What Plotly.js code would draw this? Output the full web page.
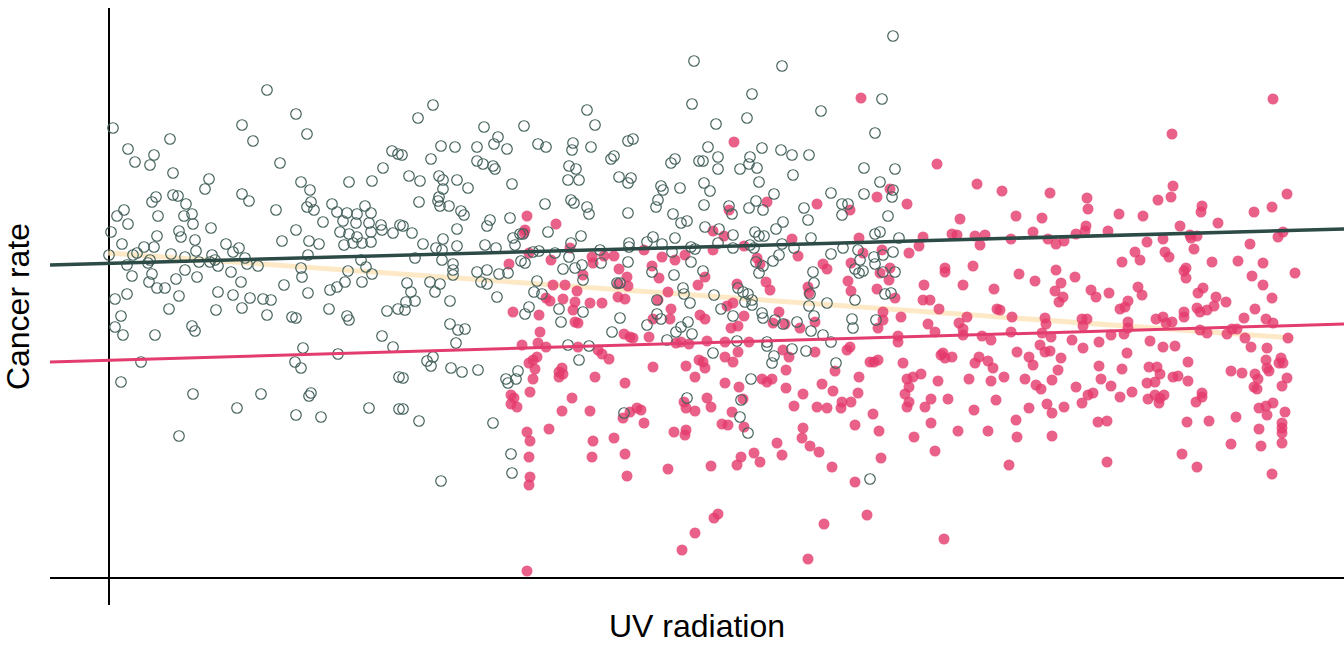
<!DOCTYPE html>
<html>
<head>
<meta charset="utf-8">
<script src="https://cdn.plot.ly/plotly-3.0.1.min.js"></script>
<style>
  html, body { margin: 0; padding: 0; background: #ffffff; }
  #chart { width: 1344px; height: 645px; }
</style>
</head>
<body>
<div id="chart"></div>
<script>
// Group 1 (open circles): UV radiation and cancer rate, arbitrary units
const group1Points = [
[4,450],[158,488],[187,464],[198,444],[133,453],[144,437],[61,439],[19,429],[26,416],[45,423],[41,413],[64,405],[100,399],[96,389],[171,415],[192,396],[201,388],[240,396],[263,397],[274,410],[283,427],[289,424],[47,381],[43,376],[64,383],[69,382],[77,374],[75,362],[83,364],[84,354],[133,384],[140,377],[167,368],[202,376],[198,371],[205,368],[214,356],[223,374],[228,366],[238,365],[234,357],[248,364],[247,355],[256,372],[262,365],[260,355],[272,353],[273,348],[284,345],[291,353],[231,346],[240,344],[262,346],[248,341],[244,335],[235,333],[253,335],[262,336],[8,362],[15,368],[19,354],[49,362],[2,346],[70,347],[72,341],[48,342],[102,350],[187,348],[173,337],[200,337],[210,334],[86,338],[13,334],[35,331],[45,331],[0,323],[24,323],[28,325],[41,318],[39,315],[18,313],[62,324],[76,321],[87,327],[90,316],[103,323],[101,316],[106,318],[109,312],[117,334],[124,326],[130,330],[136,320],[138,314],[149,312],[122,306],[132,296],[76,308],[43,304],[23,302],[40,296],[67,299],[88,301],[48,290],[56,290],[18,284],[6,279],[70,282],[109,286],[124,283],[141,280],[154,279],[162,278],[192,310],[193,301],[199,323],[175,293],[199,285],[239,307],[236,296],[253,296],[252,318],[257,311],[263,304],[221,288],[228,291],
[12,262],[6,251],[14,243],[60,269],[46,243],[83,252],[86,247],[107,268],[133,270],[158,263],[183,261],[187,260],[220,269],[238,262],[240,258],[278,267],[289,269],[273,242],[284,231],[194,230],[229,224],[186,216],[192,210],[32,216],[12,196],[84,184],[152,184],[202,185],[200,182],[128,170],[187,163],[212,161],[260,170],[290,201],[290,169],[70,142],
[585,517],[583,474],[324,473],[309,460],[478,468],[486,453],[375,451],[415,452],[389,441],[385,434],[398,429],[368,431],[332,432],[346,431],[293,423],[322,419],[368,417],[374,414],[384,412],[386,409],[429,434],[437,431],[464,435],[463,428],[482,431],[519,437],[524,439],[502,419],[505,422],[562,415],[566,419],[590,417],[300,402],[311,397],[330,402],[334,398],[348,398],[334,389],[359,390],[403,394],[460,412],[467,409],[459,398],[470,398],[510,401],[522,400],[519,395],[552,392],[554,388],[571,390],[310,376],[330,381],[329,377],[331,372],[340,372],[352,367],[355,363],[436,374],[462,378],[465,375],[478,371],[480,364],[519,365],[549,378],[547,371],[564,364],[572,355],[578,357],[294,352],[303,345],[314,334],[327,330],[334,339],[333,328],[348,349],[348,332],[333,318],[306,320],[378,352],[381,358],[401,360],[376,333],[387,330],[404,340],[406,333],[411,344],[414,344],[439,346],[472,342],[462,335],[424,326],[430,327],[446,325],[460,321],[491,328],[492,315],[520,335],[520,331],[538,336],[544,341],[553,334],[566,340],[563,326],[582,331],[586,329],[582,316],[519,316],[344,314],[344,308],[344,303],[368,306],[378,308],[390,304],[372,296],[378,294],[399,305],[412,317],[416,315],[454,309],[466,310],[473,313],[474,298],[428,297],[425,286],[433,284],[388,281],[341,277],[298,295],[302,286],[321,296],[331,294],[326,286],[297,276],[306,277],[508,295],[511,295],[543,306],[565,303],[574,290],[575,284],[581,275],[548,278],
[296,268],[341,254],[349,248],[356,249],[347,235],[318,217],[324,221],[322,212],[342,210],[353,206],[369,208],[294,200],[294,169],[310,157],[384,155],[332,97],[397,199],[399,195],[407,199],[409,207],[402,124],[403,105],[416,264],[420,271],[450,269],[452,256],[474,266],[459,233],[480,232],[470,218],[503,246],[511,260],[548,264],[552,259],[538,253],[558,238],[567,246],[572,251],[579,256],[583,244],[515,165],[578,180],
[784,542],[673,512],[643,484],[773,479],[712,467],[638,460],[607,454],[766,445],[599,431],[594,417],[609,421],[609,409],[631,409],[641,421],[640,414],[648,410],[653,430],[672,428],[683,423],[700,423],[684,403],[650,396],[595,395],[601,387],[595,373],[665,384],[647,377],[640,370],[654,368],[620,372],[623,364],[695,370],[699,358],[722,385],[733,374],[739,374],[733,363],[755,410],[755,384],[771,396],[784,388],[783,381],[786,409],[779,362],[596,351],[610,349],[624,343],[674,356],[667,349],[646,346],[650,342],[655,342],[641,333],[645,330],[624,330],[609,335],[673,334],[685,330],[702,340],[670,323],[664,317],[647,316],[654,312],[650,305],[704,306],[705,295],[722,324],[734,330],[749,328],[751,318],[746,309],[750,305],[754,307],[765,321],[766,314],[774,323],[784,326],[774,306],[786,306],[766,344],[771,346],[790,340],[594,307],[605,283],[629,290],[634,286],[639,284],[643,278],[701,284],[718,275],[746,278],[776,284],[782,285],
[612,269],[624,262],[636,276],[643,273],[653,265],[654,260],[666,258],[674,254],[688,256],[700,272],[705,262],[743,259],[744,250],[767,258],[702,247],[714,243],[722,236],[628,237],[658,236],[658,232],[604,225],[665,222],[663,215],[683,229],[697,227],[727,215],[642,199],[632,178],[631,161],[639,145],[761,99]
];

// Group 2 (filled dots): UV radiation and cancer rate, arbitrary units
const group2Points = [
[418,362],[447,354],[416,348],[415,345],[420,325],[400,314],[442,318],[461,330],[483,321],[484,315],[495,322],[505,322],[535,328],[553,321],[566,318],[576,323],[543,312],[550,300],[510,309],[518,301],[519,292],[509,294],[474,303],[444,293],[456,293],[468,287],[509,281],[516,279],[559,286],[589,293],[437,280],[441,277],[454,279],[466,276],[481,275],[493,275],[549,278],
[404,266],[430,263],[431,246],[413,233],[429,235],[437,231],[420,215],[424,218],[428,221],[426,209],[424,199],[421,186],[402,183],[405,180],[402,174],[408,171],[418,146],[421,137],[420,121],[421,101],[420,93],[418,7],[440,149],[450,206],[453,210],[450,201],[454,204],[463,180],[453,167],[466,256],[469,255],[464,268],[469,231],[489,228],[493,224],[500,219],[486,201],[481,167],[484,137],[483,121],[505,140],[516,195],[515,244],[521,241],[524,240],[516,124],[518,102],[514,160],[521,166],[528,170],[532,168],[535,155],[540,241],[544,211],[544,259],[562,269],[561,259],[567,235],[572,236],[580,234],[591,263],[577,212],[586,201],[575,176],[577,170],[586,167],[565,146],[577,148],[576,143],[559,109],[586,45],[573,28],[590,218],
[752,480],[625,436],[828,414],[868,394],[781,389],[768,381],[798,374],[741,368],[708,374],[658,376],[620,368],[851,359],[604,347],[615,342],[635,332],[604,328],[683,339],[689,322],[750,340],[773,328],[754,325],[800,325],[814,341],[810,332],[843,344],[848,343],[866,342],[876,343],[871,333],[648,320],[651,314],[714,314],[718,309],[742,315],[771,305],[781,310],[780,298],[836,310],[836,306],[864,312],[596,301],[628,294],[657,296],[661,288],[699,291],[700,285],[739,297],[742,287],[768,289],[786,280],[815,293],[854,293],[885,289],[814,278],[821,278],[624,275],
[1164,479],[1063,444],[893,387],[941,385],[1064,392],[1062,381],[1049,378],[978,380],[979,369],[907,362],[933,360],[1010,364],[1034,362],[1093,372],[1092,366],[1109,355],[1145,366],[1163,371],[1178,384],[1071,352],[977,352],[976,347],[967,344],[924,346],[999,347],[902,339],[939,339],[947,334],[955,337],[1038,336],[1054,339],[1081,343],[1082,340],[1088,342],[1085,329],[1174,346],[1169,341],[1026,326],[1031,318],[1013,316],[1056,326],[1060,321],[1103,316],[1129,317],[1141,334],[1154,315],[910,304],[926,297],[947,308],[952,295],[946,287],[954,281],[966,301],[982,288],[987,281],[1000,285],[1029,291],[1033,283],[1077,310],[1075,307],[1077,300],[1094,290],[1089,285],[1107,281],[1143,302],[1154,293],[1163,280],[1186,305],[950,276],[1019,277],[1117,276],
[596,259],[618,272],[622,250],[629,252],[635,262],[670,266],[664,255],[676,254],[691,250],[706,256],[598,237],[616,236],[640,236],[629,226],[674,228],[706,226],[738,228],[741,231],[594,216],[596,210],[616,221],[624,216],[680,221],[677,208],[726,207],[616,195],[630,191],[653,199],[658,196],[663,199],[677,190],[713,194],[724,187],[694,184],[598,180],[602,171],[634,179],[685,172],[708,171],[718,170],[733,176],[732,170],[742,176],[623,166],[613,154],[619,153],[635,151],[694,150],[693,140],[701,132],[710,126],[668,135],[673,123],[645,125],[651,116],[632,121],[628,113],[602,112],[723,111],[746,153],[764,164],[770,147],[772,120],[746,96],[750,201],[749,185],[761,216],[765,216],[769,218],[789,242],[789,236],[792,261],[774,266],[769,250],[774,258],[819,254],[826,246],[830,269],[794,215],[798,199],[804,201],[812,204],[800,191],[796,184],[800,176],[798,171],[816,171],[822,179],[829,197],[839,179],[822,155],[805,141],[826,127],[849,147],[865,168],[879,147],[887,178],[860,199],[882,197],[832,223],[836,220],[843,221],[834,225],[866,215],[870,221],[879,217],[884,210],[850,255],[854,249],[854,243],[858,261],[873,242],[882,238],[888,269],[605,60],[609,64],[715,54],[758,63],[835,39],[699,19],
[891,268],[903,261],[902,246],[908,226],[920,221],[924,213],[895,201],[916,199],[927,193],[932,189],[920,170],[907,158],[908,141],[900,113],[936,260],[937,254],[933,245],[942,241],[931,233],[936,226],[941,227],[952,220],[949,208],[943,198],[938,174],[943,165],[955,171],[943,142],[963,238],[974,230],[973,259],[978,259],[974,252],[990,236],[1002,243],[967,191],[979,183],[984,185],[973,175],[990,212],[992,199],[1002,192],[989,156],[998,157],[998,116],[1011,269],[1016,271],[1019,256],[1019,250],[1015,244],[1018,225],[1013,209],[1011,181],[1023,186],[1041,237],[1047,259],[1054,261],[1057,255],[1063,256],[1054,231],[1066,232],[1075,266],[1075,261],[1088,270],[1091,266],[1098,268],[1105,272],[1040,211],[1048,211],[1051,204],[1046,196],[1038,195],[1064,201],[1069,202],[1079,216],[1079,197],[1039,179],[1046,183],[1051,180],[1050,175],[1055,183],[1087,176],[1093,185],[1093,181],[1078,156],[1100,157],[1073,124],[1088,111],[1091,248],[1098,245],[1118,244],[1123,249],[1128,249],[1135,260],[1146,269],[1157,259],[1164,255],[1136,240],[1142,231],[1158,230],[1179,240],[1122,207],[1133,205],[1146,204],[1149,199],[1145,191],[1148,189],[1157,218],[1158,210],[1160,207],[1172,220],[1170,215],[1174,215],[1178,200],[1173,192],[1127,161],[1150,170],[1157,172],[1164,175],[1158,163],[1176,166],[1150,149],[1173,155],[1173,150],[1173,145],[1173,135],[1152,132],[1122,134],[1163,104]
];

// Fitted trend lines: endpoints (UV, rate)
const overallFitUV = [-1, 1184];
const overallFitRate = [325, 240];
const groupFitUV = [-59, 1235];
const group1FitRate = [313, 349];
const group2FitRate = [216, 254];

const group1UV = group1Points.map(p => p[0]);
const group1Rate = group1Points.map(p => p[1]);
const group2UV = group2Points.map(p => p[0]);
const group2Rate = group2Points.map(p => p[1]);

const traces = [
  {
    name: 'All sites (fit)', x: overallFitUV, y: overallFitRate,
    type: 'scatter', mode: 'lines',
    line: { color: 'rgba(253,226,180,0.75)', width: 5 },
    hoverinfo: 'skip'
  },
  {
    name: 'Group 2', x: group2UV, y: group2Rate,
    type: 'scatter', mode: 'markers',
    marker: { symbol: 'circle', size: 11, color: 'rgba(228,58,108,0.8)', line: { width: 0 } }
  },
  {
    name: 'Group 1', x: group1UV, y: group1Rate,
    type: 'scatter', mode: 'markers',
    marker: { symbol: 'circle-open', size: 10.5, color: '#44615c', line: { width: 1.2, color: '#44615c' } }
  },
  {
    name: 'Group 1 (fit)', x: groupFitUV, y: group1FitRate,
    type: 'scatter', mode: 'lines',
    line: { color: '#2c4a46', width: 3.5 }
  },
  {
    name: 'Group 2 (fit)', x: groupFitUV, y: group2FitRate,
    type: 'scatter', mode: 'lines',
    line: { color: '#e23d6e', width: 3 }
  }
];

const axisFont = { family: 'Liberation Sans, Arial, Helvetica, sans-serif', size: 32, color: '#000000' };

const layout = {
  width: 1344,
  height: 645,
  margin: { l: 50, r: 0, t: 8, b: 40 },
  paper_bgcolor: '#ffffff',
  plot_bgcolor: '#ffffff',
  showlegend: false,
  xaxis: {
    range: [-59, 1235],
    showgrid: false, showline: false, showticklabels: false, ticks: '',
    zeroline: true, zerolinecolor: '#000000', zerolinewidth: 1.6,
    title: { text: 'UV radiation', font: axisFont, standoff: 9 },
    automargin: false
  },
  yaxis: {
    range: [-27, 570],
    showgrid: false, showline: false, showticklabels: false, ticks: '',
    zeroline: true, zerolinecolor: '#000000', zerolinewidth: 1.6,
    title: { text: 'Cancer rate', font: axisFont, standoff: 15 },
    automargin: false
  }
};

Plotly.newPlot('chart', traces, layout, { displayModeBar: false, staticPlot: true });
</script>
</body>
</html>
